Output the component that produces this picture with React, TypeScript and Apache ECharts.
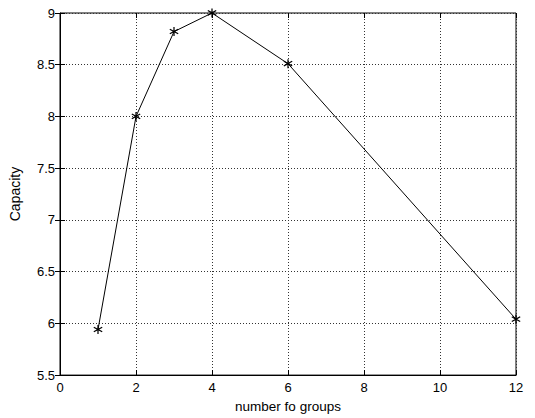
import React, { useEffect, useRef } from "react";
import * as echarts from "echarts";

const groups = [1, 2, 3, 4, 6, 12];
const capacity = [5.94, 8.0, 8.82, 9.0, 8.51, 6.04];
const xTicks = [0, 2, 4, 6, 8, 10, 12];
const yTicks = [5.5, 6, 6.5, 7, 7.5, 8, 8.5, 9];

const starPath =
  "path://M4.4,0 L5.6,0 L5.6,3.7 L8.8,1.8 L9.4,2.9 L6.2,4.9 L9.4,6.9 L8.8,8 L5.6,6.1 L5.6,10 L4.4,10 L4.4,6.1 L1.2,8 L0.6,6.9 L3.8,4.9 L0.6,2.9 L1.2,1.8 L4.4,3.7 Z";

export default function App() {
  const ref = useRef<HTMLDivElement>(null);
  useEffect(() => {
    if (!ref.current) return;
    const chart = echarts.init(ref.current, null, { renderer: "svg" });
    const font = "'Liberation Sans', Arial, sans-serif";
    const splitLine = {
      show: true,
      lineStyle: { color: "#333", width: 1, type: [1, 2] as any },
    };
    chart.setOption({
      animation: false,
      backgroundColor: "#fff",
      grid: {
        left: 58,
        top: 13,
        right: 19,
        bottom: 40,
        show: true,
        borderColor: "#000",
        borderWidth: 1,
      },
      xAxis: [
        {
          type: "value",
          min: xTicks[0],
          max: xTicks[xTicks.length - 1],
          interval: 2,
          name: "number fo groups",
          nameLocation: "middle",
          nameGap: 23,
          nameTextStyle: { color: "#000", fontSize: 13.5, fontFamily: font },
          axisLine: { show: true, lineStyle: { color: "#000" } },
          axisTick: { show: true, inside: true, length: 5, lineStyle: { color: "#000" } },
          axisLabel: { color: "#000", fontSize: 13, fontFamily: font, margin: 6 },
          splitLine,
        },
        {
          type: "value",
          position: "top",
          min: xTicks[0],
          max: xTicks[xTicks.length - 1],
          interval: 2,
          axisLine: { show: false },
          axisTick: { show: true, inside: true, length: 5, lineStyle: { color: "#000" } },
          axisLabel: { show: false },
          splitLine: { show: false },
        },
      ],
      yAxis: [
        {
          type: "value",
          min: yTicks[0],
          max: yTicks[yTicks.length - 1],
          interval: 0.5,
          name: "Capacity",
          nameLocation: "middle",
          nameGap: 38,
          nameTextStyle: { color: "#000", fontSize: 14, fontFamily: font },
          axisLine: { show: true, lineStyle: { color: "#000" } },
          axisTick: { show: true, inside: true, length: 5, lineStyle: { color: "#000" } },
          axisLabel: { color: "#000", fontSize: 13, fontFamily: font, margin: 5 },
          splitLine,
        },
        {
          type: "value",
          position: "right",
          min: yTicks[0],
          max: yTicks[yTicks.length - 1],
          interval: 0.5,
          axisLine: { show: false },
          axisTick: { show: true, inside: true, length: 5, lineStyle: { color: "#000" } },
          axisLabel: { show: false },
          splitLine: { show: false },
        },
      ],
      series: [
        {
          type: "line",
          data: groups.map((g, i) => [g, capacity[i]]),
          symbol: starPath,
          symbolSize: 9,
          showAllSymbol: true,
          lineStyle: { color: "#000", width: 1 },
          itemStyle: { color: "#000", borderWidth: 0 },
        },
      ],
    });
    return () => chart.dispose();
  }, []);
  return <div ref={ref} style={{ width: 535, height: 418, position: "absolute", left: 0, top: 0 }} />;
}
